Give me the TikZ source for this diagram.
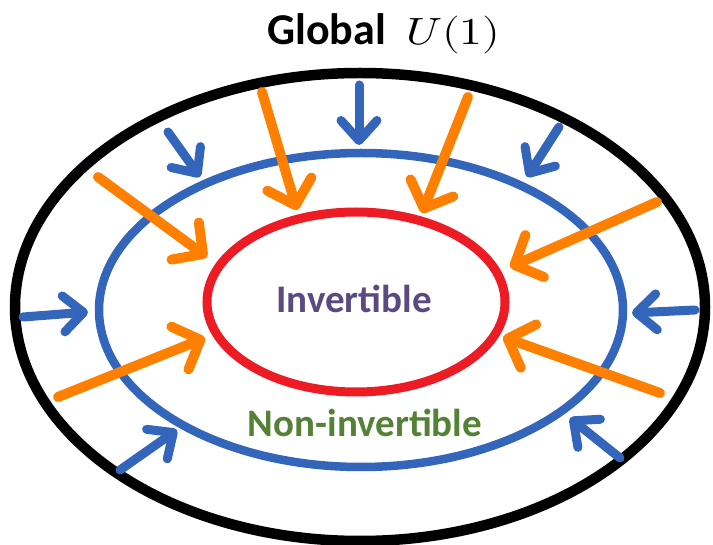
\documentclass[tikz,border=0pt]{standalone}
\usepackage{fontspec}
\usepackage{unicode-math}
\setmainfont{Carlito}
\setmathfont{Latin Modern Math}
\usetikzlibrary{arrows.meta}
\definecolor{orangeC}{HTML}{FF7F00}
\definecolor{blueC}{HTML}{3366BB}
\definecolor{redC}{HTML}{ED1C24}
\definecolor{purpleC}{HTML}{5B4A82}
\definecolor{greenC}{HTML}{538135}
\tikzset{
  oarr/.style={draw=orangeC, line width=10pt, line cap=round, line join=round,
    -{Straight Barb[length=22pt, width=46pt, line cap=round, line join=round]}},
  barr/.style={draw=blueC, line width=9pt, line cap=round, line join=round,
    -{Straight Barb[length=20pt, width=36pt, line cap=round, line join=round]}},
  lbl/.style={font=\fontsize{39}{44}\selectfont\bfseries, anchor=base, inner sep=0pt}
}
\begin{document}
\begin{tikzpicture}[x=1pt, y=-1pt]
\useasboundingbox (0,0) rectangle (713,545);
% ellipses
\draw[black, line width=10.5pt] (360,307) ellipse [x radius=345, y radius=234];
\draw[blueC, line width=8.5pt] (361,310) ellipse [x radius=262, y radius=157];
\draw[redC, line width=9pt] (356,302) ellipse [x radius=149, y radius=90];
% labels
\node[anchor=base west, inner sep=0pt, font=\fontsize{44}{48}\selectfont\bfseries] (title) at (267,45) {Global};
\node[anchor=base west, inner sep=0pt, font=\fontsize{38}{44}\selectfont, xscale=1.2] (u1) at (406,45) {$U(1)$};
\node[lbl, text=purpleC] (inv) at (354,313) {Invertible};
\node[lbl, text=greenC] (ninv) at (365,437) {Non-invertible};
% arrow end points
\coordinate (o1s) at (262,92);  \coordinate (o1e) at (297,210);
\coordinate (o2s) at (468,97);  \coordinate (o2e) at (422,213);
\coordinate (o3s) at (98,177);  \coordinate (o3e) at (207,257);
\coordinate (o4s) at (657,202); \coordinate (o4e) at (510,267);
\coordinate (o5s) at (58,397);  \coordinate (o5e) at (205,338);
\coordinate (o6s) at (660,393); \coordinate (o6e) at (503,337);
\coordinate (b1s) at (359,85);  \coordinate (b1e) at (359,145);
\coordinate (b2s) at (168,132); \coordinate (b2e) at (200,177);
\coordinate (b3s) at (559,127); \coordinate (b3e) at (527,177);
\coordinate (b4s) at (23,317);  \coordinate (b4e) at (88,312);
\coordinate (b5s) at (695,310); \coordinate (b5e) at (632,313);
\coordinate (b6s) at (120,470); \coordinate (b6e) at (177,430);
\coordinate (b7s) at (620,458); \coordinate (b7e) at (570,418);
% blue arrows
\foreach \i in {1,...,7} { \draw[barr] (b\i s) -- (b\i e); }
% orange arrows
\foreach \i in {1,...,6} { \draw[oarr] (o\i s) -- (o\i e); }
\end{tikzpicture}
\end{document}
